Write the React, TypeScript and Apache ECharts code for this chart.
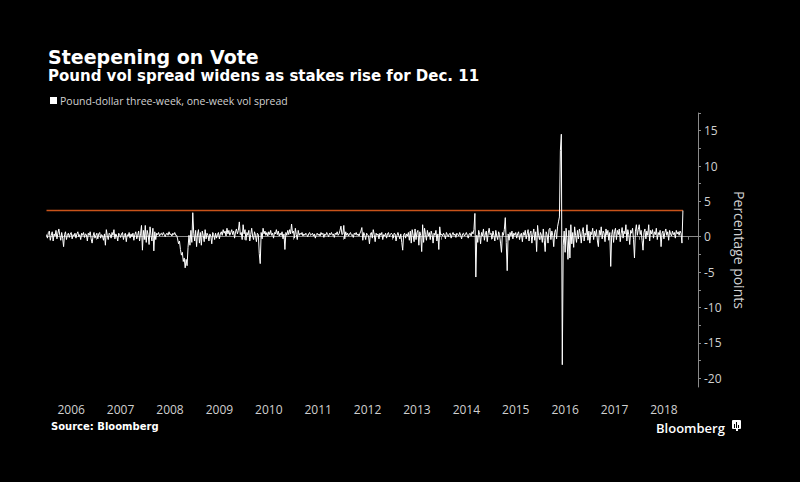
import React, { useEffect, useRef } from "react";
import * as echarts from "echarts";

// Pound-dollar three-week minus one-week implied vol spread (percentage points), weekly readings
const years = [2006, 2007, 2008, 2009, 2010, 2011, 2012, 2013, 2014, 2015, 2016, 2017, 2018];

const v2006 = [
  0.3, -0.2, 0.6, 0.8, -0.5, 0.2, 0.7, -0.6, 0.4, 0.1, 0.9, -0.3, 0.5,
  1.1, 0.2, -0.5, 0.6, -0.2, -1.4, 0.3, 0.7, -0.4, 0.2, 0.5, -0.1, 0.4,
  0.6, -0.3, 0.3, 0.1, 0.5, -0.2, 0.4, 0.7, 0.0, 0.3, -0.4, 0.5, 0.2,
  0.6, -0.1, 0.4, 0.3, -0.6, 0.5, 0.2, 0.7, -0.3, -0.9, 0.1, 0.6, -0.2,
];
const v2007 = [
  0.2, 0.5, -0.3, 0.4, 0.6, -0.2, 0.3, 0.1, -0.5, 0.4, -1.2, 1.0, 0.2,
  -0.4, 0.5, 0.3, -0.2, 0.6, 0.2, 1.0, -0.3, 0.4, 0.1, -0.6, 0.5, 0.3,
  -0.1, 0.4, 0.6, -0.4, 0.2, 0.5, -0.7, 0.3, 0.1, 0.6, -0.2, 0.4, 0.0,
  0.5, -0.5, 0.3, 0.7, -0.3, 0.2, 0.8, -0.6, 0.4, 1.6, -1.9, 0.9, -0.4,
];
const v2008 = [
  1.6, -0.8, 0.9, 0.3, -1.1, 1.4, 0.2, -0.6, 1.2, -2.0, 0.7, -0.4, 0.5,
  0.3, 0.6, 0.1, 0.4, 0.5, 0.2, 0.6, 0.3, 0.0, 0.4, 0.5, 0.2, 0.7,
  0.3, 0.4, 0.1, 0.5, 0.3, 0.6, 0.2, 0.2, -0.3, -1.0, -0.6, -1.8, -2.6,
  -2.2, -3.5, -3.0, -4.4, -3.2, -4.1, -1.5, 0.2, -1.2, 0.9, -0.8, 3.4, 0.5,
];
const v2009 = [
  -0.6, 0.9, -1.4, 0.4, 1.0, -0.9, 0.6, -1.2, 0.8, 0.2, -0.7, 1.0, -0.3,
  0.5, 0.2, -0.6, 0.4, 0.1, -1.0, 0.6, 0.3, -0.4, 0.5, -0.2, 0.3, 0.6,
  -0.3, 0.4, 0.7, 0.2, 1.0, 0.5, 0.8, 0.1, 1.2, 0.4, 0.9, 0.2, 0.6,
  1.0, 0.3, 0.8, -0.2, 0.7, 1.1, 0.4, 0.9, 2.1, 0.3, 0.6, -0.4, 1.7,
];
const v2010 = [
  0.4, 1.0, -0.5, 0.6, 0.2, 0.9, -0.6, 0.3, 1.2, 0.1, -0.4, 0.7, 0.2,
  -0.7, 0.5, 0.3, -2.4, -3.8, 0.6, -0.3, 1.2, 0.4, 0.8, 0.2, 0.6, 0.1,
  0.7, 0.3, 0.9, 0.2, 0.5, -0.2, 0.6, 0.4, 1.0, 0.3, 0.8, 0.1, 0.5,
  0.2, 0.7, -0.3, 0.4, -1.8, 0.6, 0.2, 0.9, 0.3, 1.0, 0.4, 1.8, 0.5,
];
const v2011 = [
  0.8, -0.2, 1.2, 0.3, -0.4, 0.9, 0.2, 0.5, 0.3, 0.6, 0.1, 0.4, 0.2,
  0.5, 0.3, 0.0, 0.4, 0.6, 0.2, 0.3, 0.5, 0.1, 0.4, -0.2, 0.3, 0.5,
  0.2, 0.4, 0.1, 0.6, 0.3, 0.5, -0.1, 0.4, 0.2, 0.6, 0.3, 0.0, 0.5,
  0.3, 0.6, 0.2, 0.4, -0.1, 0.5, 0.3, 0.7, 0.2, 0.4, 0.9, 1.5, 0.3,
];
const v2012 = [
  0.4, 1.6, -0.3, 0.7, 0.2, 0.5, 0.1, 0.4, 0.6, 0.2, 0.3, -0.1, 0.5,
  0.3, 0.6, 0.2, 0.4, 0.1, 0.5, 0.8, 1.3, -0.5, 0.6, 0.2, -0.4, 0.5,
  0.3, 0.1, -1.0, 0.4, 0.6, -0.2, 1.0, 0.3, -0.7, 0.5, 0.2, 0.4, -0.3,
  0.5, 0.2, 0.6, -0.4, 0.3, 0.1, 0.5, -0.2, 0.4, 0.6, 0.0, 0.3, 0.5,
];
const v2013 = [
  0.3, -0.2, 0.5, 0.4, -0.6, 0.2, 0.6, 0.1, -0.3, 0.4, -0.8, -1.9, 0.3,
  0.5, -0.2, 0.4, 0.1, 0.6, -0.5, 0.8, -0.9, 1.0, 0.2, -0.7, 1.1, -0.4,
  0.6, 0.9, -1.2, 0.7, 0.2, -2.1, 1.7, -0.8, 1.2, 0.3, -0.5, 0.9, 0.1,
  0.6, -0.4, 0.8, 0.3, -0.9, 0.5, 0.2, 0.9, -0.6, 0.4, -1.8, 1.4, 0.2,
];
const v2014 = [
  0.4, 0.1, 0.5, 0.2, -0.3, 0.6, 0.3, 0.0, 0.4, 0.5, -0.2, 0.3, 0.6,
  0.2, 0.4, -0.1, 0.5, 0.3, 0.1, 0.6, 0.2, -0.3, 0.4, 0.5, 0.1, 0.3,
  0.6, 0.2, -0.2, 0.4, 0.5, 0.1, 0.7, 0.4, 1.0, 3.3, -5.7, 0.2, -0.8,
  0.9, 0.3, -1.0, 0.6, 0.1, 1.1, -0.5, 0.4, 0.8, -0.7, 0.5, 1.2, 0.3,
];
const v2015 = [
  0.5, -0.3, 0.8, 0.2, -0.6, 0.9, 0.1, -0.4, 0.7, 0.3, -0.9, -2.2, 0.6,
  0.2, 1.0, 2.7, -0.8, -4.8, 0.4, -0.5, 0.6, 0.1, 0.8, -0.3, 0.5, 0.2,
  0.6, -0.2, 0.4, 0.7, -0.4, 0.3, 0.5, -0.7, 0.6, 0.2, 0.9, -0.3, 0.4,
  1.0, -0.6, 0.5, 0.8, -0.9, 0.3, 1.1, -0.5, 0.7, -2.1, 1.6, 0.2, -0.4,
];
const v2016 = [
  0.6, 0.2, -0.8, 1.1, -0.5, -2.1, 0.7, 0.3, -0.9, 1.0, 1.2, -0.4, 0.8,
  0.2, -1.4, 0.6, 1.0, -0.3, 1.4, 2.1, 2.8, 12.2, 14.5, -18.1, -1.2, 0.8,
  -2.2, 1.2, -0.6, -3.2, 0.9, -3.0, 1.7, -1.0, 0.6, -1.5, 1.4, 0.2, -0.8,
  0.9, -0.3, 1.1, 0.4, -0.9, 0.7, 1.3, -0.6, 0.5, 0.2, 1.7, -0.5, 0.8,
];
const v2017 = [
  -0.9, 0.7, 0.3, 1.2, -0.4, 0.8, 0.1, 1.0, -0.6, -1.4, 0.9, 0.2, 1.4,
  -0.3, 0.8, 0.5, -0.7, 1.1, 0.2, 0.9, -0.5, 0.6, -4.2, 0.3, 1.0, -0.8,
  0.7, 1.2, -0.4, 0.9, 0.3, 1.1, -0.7, 0.5, 1.3, -0.2, 0.8, 0.4, 1.7,
  -0.6, 1.0, 0.3, -1.1, 0.9, 0.5, 1.2, -0.4, -3.0, 0.8, 1.7, 0.2, 1.0,
];
const v2018 = [
  1.7, 0.3, 0.9, -0.5, -1.9, 0.6, 1.1, -0.3, 0.8, 0.2, 1.7, -0.6, 0.9,
  0.4, 1.0, -0.2, 0.7, 0.3, 1.2, -0.4, 0.6, 0.2, 0.9, -1.4, 0.5, 0.8,
  -0.3, 0.6, 1.1, 0.2, 0.7, -0.5, 0.9, 0.4, 0.1, 0.8, 0.3, 0.6, -0.2,
  0.9, 0.4, 0.7, 0.2, 0.8, 0.5, -0.9, 3.7,
];

const yearlyValues = [v2006, v2007, v2008, v2009, v2010, v2011, v2012, v2013, v2014, v2015, v2016, v2017, v2018];
const weeksPerYear = 52;
const currentLevel = 3.7;

const xTickValues = [2007, 2008, 2009, 2010, 2011, 2012, 2013, 2014, 2015, 2016, 2017, 2018, 2019];
const xLabelValues = years.map((y) => y + 0.5);
const yLabelValues = [-20, -15, -10, -5, 0, 5, 10, 15];
const yTickValues = [-20, -17.5, -15, -12.5, -10, -7.5, -5, -2.5, 0, 2.5, 5, 7.5, 10, 12.5, 15, 17.5];

const seriesName = "Pound-dollar three-week, one-week vol spread";

export default function App() {
  const ref = useRef<HTMLDivElement>(null);

  useEffect(() => {
    document.body.style.margin = "0";
    document.body.style.background = "#000";
    if (!ref.current) return;
    const chart = echarts.init(ref.current, undefined, { renderer: "svg" });

    const points: [number, number][] = [];
    yearlyValues.forEach((arr, k) => {
      arr.forEach((v, i) => points.push([years[k] + i / weeksPerYear, v]));
    });
    const firstX = points[0][0];
    const lastX = points[points.length - 1][0];

    const option: echarts.EChartsOption = {
      animation: false,
      backgroundColor: "#000",
      grid: { left: 46.5, right: 102, top: 113, bottom: 95, containLabel: false },
      legend: {
        data: [seriesName],
        left: 50,
        top: 95,
        icon: "rect",
        itemWidth: 7,
        itemHeight: 7,
        itemGap: 4,
        padding: [0, 0, 0, 0],
        textStyle: { color: "#d0d0d0", fontSize: 10.5, fontFamily: "Open Sans", padding: [0, 0, 0, -2] },
      },
      xAxis: {
        type: "value",
        min: 2006,
        max: 2019.19,
        axisLine: { show: true, lineStyle: { color: "#8a8a8a", width: 1 } },
        axisTick: { show: true, inside: false, length: 3, customValues: xTickValues, lineStyle: { color: "#8a8a8a" } },
        axisLabel: {
          customValues: xLabelValues,
          formatter: (v: number) => String(Math.floor(v)),
          color: "#d0d0d0",
          fontSize: 12,
          fontFamily: "Open Sans",
          lineHeight: 13,
          margin: 16,
        },
        splitLine: { show: false },
      },
      yAxis: {
        type: "value",
        position: "right",
        min: -21.25,
        max: 17.5,
        name: "Percentage points",
        nameLocation: "middle",
        nameRotate: -90,
        nameGap: 33,
        nameTextStyle: { color: "#d0d0d0", fontSize: 14, fontFamily: "Open Sans" },
        axisLine: { show: true, lineStyle: { color: "#8a8a8a", width: 1 } },
        axisTick: { show: true, inside: false, length: 3, customValues: yTickValues, lineStyle: { color: "#8a8a8a" } },
        axisLabel: {
          customValues: yLabelValues,
          color: "#d0d0d0",
          fontSize: 12,
          fontFamily: "Open Sans",
          margin: 6,
        },
        splitLine: { show: false },
      },
      series: [
        {
          name: "current",
          type: "line",
          data: [
            [firstX, currentLevel],
            [lastX, currentLevel],
          ],
          showSymbol: false,
          lineStyle: { color: "#c9531a", width: 1.5 },
          itemStyle: { color: "#c9531a" },
          z: 1,
          silent: true,
        },
        {
          name: seriesName,
          type: "line",
          data: points,
          showSymbol: false,
          lineStyle: { color: "#ffffff", width: 1 },
          itemStyle: { color: "#ffffff" },
          z: 2,
        },
      ],
      graphic: [
        {
          type: "text",
          left: 48,
          top: 47,
          style: { text: "Steepening on Vote", fill: "#ffffff", font: "bold 19px 'DejaVu Sans'" },
        },
        {
          type: "text",
          left: 48,
          top: 68,
          style: { text: "Pound vol spread widens as stakes rise for Dec. 11", fill: "#ffffff", font: "bold 15px 'DejaVu Sans'" },
        },
        {
          type: "text",
          left: 51,
          top: 421,
          style: { text: "Source: Bloomberg", fill: "#ffffff", font: "bold 10px 'DejaVu Sans'" },
        },
        {
          type: "text",
          left: 656,
          top: 421,
          style: { text: "Bloomberg", fill: "#ffffff", font: "600 13px 'Open Sans'", lineHeight: 13 },
        },
        {
          type: "group",
          left: 732,
          top: 420,
          children: [
            { type: "rect", shape: { x: 0, y: 0, width: 9, height: 9, r: 1 }, style: { fill: "#ffffff" } },
            { type: "rect", shape: { x: 4, y: 9, width: 2, height: 2 }, style: { fill: "#ffffff" } },
            { type: "rect", shape: { x: 2, y: 4, width: 1, height: 4 }, style: { fill: "#000000" } },
            { type: "rect", shape: { x: 4, y: 2, width: 1, height: 6 }, style: { fill: "#000000" } },
            { type: "rect", shape: { x: 6, y: 5, width: 1, height: 3 }, style: { fill: "#000000" } },
          ],
        },
      ],
    };

    chart.setOption(option);
    return () => chart.dispose();
  }, []);

  return <div ref={ref} style={{ width: 800, height: 482, background: "#000" }} />;
}
